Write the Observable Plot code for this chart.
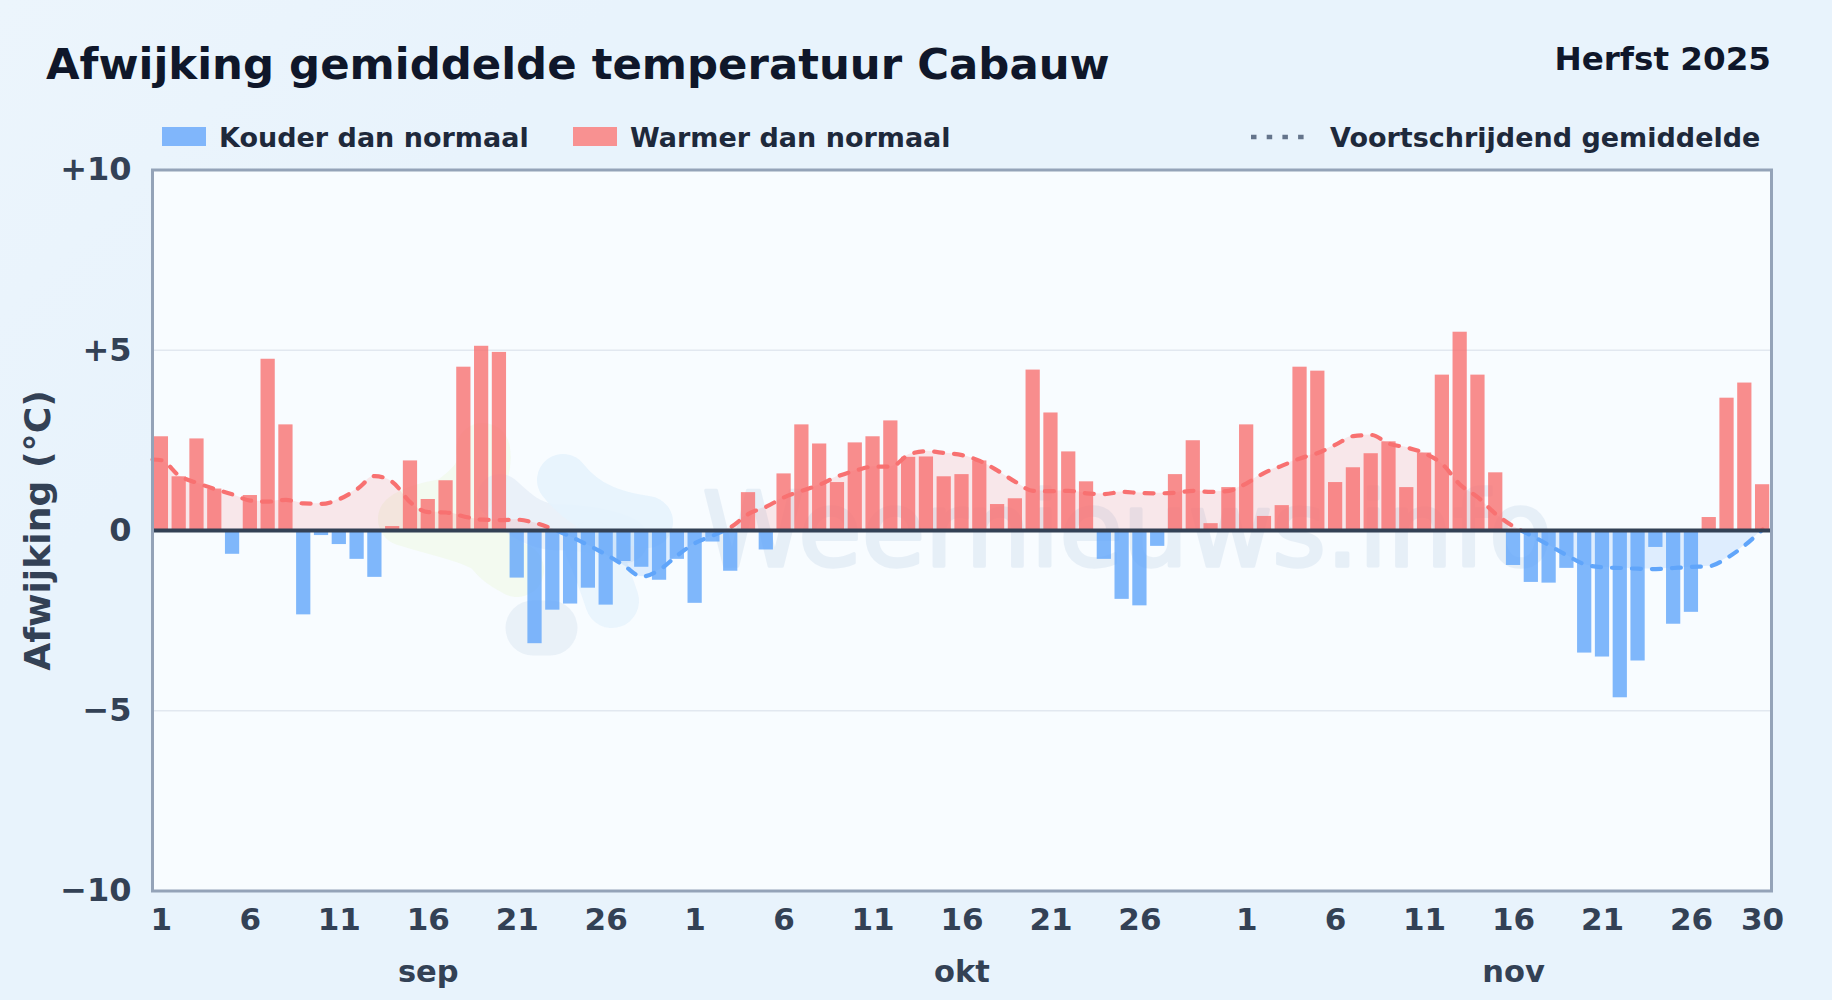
<!DOCTYPE html>
<html lang="nl">
<head>
<meta charset="utf-8">
<title>Afwijking gemiddelde temperatuur Cabauw</title>
<script src="https://cdn.jsdelivr.net/npm/d3@7"></script>
<script src="https://cdn.jsdelivr.net/npm/@observablehq/plot@0.6"></script>
<style>
  html,body{margin:0;padding:0;width:1832px;height:1000px;overflow:hidden;
    background:linear-gradient(135deg,#ecf5fc 0%,#e8f3fc 22%,#e8f3fc 100%);
    font-family:"DejaVu Sans",sans-serif;font-weight:700;}
  #head{position:relative;width:1832px;height:150px;}
  #head div{position:absolute;line-height:1;white-space:nowrap;}
  #title{left:46px;top:43px;font-size:43.4px;color:#0f172a;}
  #season{right:61px;top:43px;font-size:32.6px;color:#0f172a;}
  .leg{top:124px;font-size:27px;color:#1e293b;}
  .sw{top:127px;width:44px;height:19px;}
  #dots{position:absolute;left:1251px;top:134px;}
  #chart svg{display:block;}
</style>
</head>
<body>
<div id="head">
  <div id="title">Afwijking gemiddelde temperatuur Cabauw</div>
  <div id="season">Herfst 2025</div>
  <div class="sw" style="left:162px;background:#80b6fb"></div>
  <div class="leg" style="left:219px">Kouder dan normaal</div>
  <div class="sw" style="left:573px;background:#f89191"></div>
  <div class="leg" style="left:630px">Warmer dan normaal</div>
  <svg id="dots" width="60" height="6"><line x1="0" x2="58" y1="3" y2="3" stroke="#64748b" stroke-width="4.5" stroke-dasharray="5.5 10.2"/></svg>
  <div class="leg" style="left:1330px">Voortschrijdend gemiddelde</div>
</div>
<div id="chart"></div>
<script>
const anomaly = [
  2.60,1.49,2.54,1.15,-0.66,0.97,4.75,2.93,-2.34,-0.14,-0.39,-0.80,-1.30,0.11,1.93,0.86,1.38,4.53,5.11,4.94,
  -1.32,-3.14,-2.21,-2.04,-1.60,-2.07,-0.86,-1.02,-1.38,-0.80,
  -2.02,-0.32,-1.13,1.05,-0.54,1.57,2.93,2.40,1.33,2.43,2.60,3.04,2.03,2.04,1.49,1.55,1.93,0.72,0.88,4.45,
  3.26,2.18,1.35,-0.80,-1.91,-2.09,-0.44,1.55,2.49,0.19,1.19,
  2.93,0.39,0.69,4.53,4.42,1.33,1.74,2.13,2.46,1.19,2.15,4.31,5.50,4.31,1.60,-0.97,-1.44,-1.46,-1.05,
  -3.40,-3.51,-4.64,-3.62,-0.47,-2.60,-2.27,0.36,3.67,4.09,1.27
];
const movingAverage = [
  1.95,1.52,1.32,1.15,1.00,0.83,0.80,0.85,0.75,0.74,0.87,1.15,1.51,1.34,0.78,0.51,0.50,0.39,0.30,0.29,
  0.30,0.21,0.04,-0.17,-0.41,-0.67,-0.97,-1.28,-1.09,-0.69,
  -0.35,-0.14,0.09,0.46,0.66,0.92,1.10,1.27,1.50,1.66,1.77,1.77,2.10,2.20,2.15,2.09,1.93,1.66,1.35,1.10,
  1.09,1.10,1.03,1.01,1.07,1.04,1.03,1.05,1.10,1.07,1.10,
  1.31,1.60,1.80,2.00,2.15,2.38,2.62,2.65,2.41,2.30,2.14,1.84,1.27,0.92,0.46,0.11,-0.14,-0.41,-0.69,
  -0.94,-1.02,-1.04,-1.06,-1.07,-1.04,-1.01,-0.99,-0.76,-0.41,0.03
];
const xTickIndex = [0,5,10,15,20,25,30,35,40,45,50,55,61,66,71,76,81,86,90];
const xTickLabel = ["1","6","11","16","21","26","1","6","11","16","21","26","1","6","11","16","21","26","30"];
const monthIndex = [15,45,76];
const monthLabel = ["sep","okt","nov"];
const yTicks = [10,5,0,-5,-10];
const yTickLabel = ["+10","+5","0","\u22125","\u221210"];
const gridLines = [5,-5];

const bars = anomaly.map((v,i)=>({i,v}));
const avg = movingAverage.map((v,i)=>({i,v}));
avg.unshift({i:-0.5,v:movingAverage[0]+0.02});

const RED="#f87171", BLUE="#60a5fa";
let clipN=0;
const clipTo=(a,b)=>(index,scales,values,dims,context,next)=>{
  const g=next(index,scales,values,dims,context);
  const id="clip"+(++clipN);
  const cp=d3.create("svg:clipPath").attr("id",id);
  cp.append("rect").attr("x",0).attr("width",dims.width)
    .attr("y",Math.min(scales.y(a),scales.y(b))).attr("height",Math.abs(scales.y(a)-scales.y(b)));
  const wrap=d3.create("svg:g").attr("clip-path",`url(#${id})`);
  wrap.node().appendChild(cp.node());
  wrap.node().appendChild(g);
  return wrap.node();
};
const logoMark=()=>{
  const g=d3.create("svg:g").attr("fill","none").attr("stroke-linecap","round").attr("stroke-linejoin","round");
  const paths=[
    ["M483 450 C488 480 465 492 450 505 C430 508 415 512 405 519 C440 530 470 535 490 548 C500 562 510 566 517 570","#eef7e4",54,.55],
    ["M500 497 C515 510 525 522 550 527 C580 527 610 532 625 540","#e4ecf6",46,.7],
    ["M563 480 C585 508 615 518 647 522","#e6f3fd",52,.9],
    ["M612 601 C605 580 600 565 592 548","#e6f3fd",54,.8],
    ["M533 628 L550 628","#e6eef7",55,.85]
  ];
  for(const [d,c,w,o] of paths) g.append("path").attr("d",d).attr("stroke",c).attr("stroke-width",w).attr("opacity",o).attr("transform","translate(0,-150)");
  return g.node();
};

const plot = Plot.plot({
  width:1832, height:850,
  marginLeft:152, marginRight:61, marginTop:19.5, marginBottom:109.5,
  style:{background:"transparent",fontFamily:"'DejaVu Sans',sans-serif",fontWeight:700,overflow:"visible"},
  x:{type:"linear",domain:[-0.5,90.5]},
  y:{domain:[-10,10]},
  marks:[
    Plot.frame({fill:"#f8fcff",stroke:null}),
    logoMark,
    Plot.text(["Weernieuws.info"],{frameAnchor:"left",dx:550,dy:35,text:d=>d,textAnchor:"start",fontSize:103,fontWeight:400,fill:"#2563a8",stroke:"#2563a8",strokeWidth:3.5,opacity:.08,lineAnchor:"bottom"}),
    Plot.ruleY(gridLines,{stroke:"#e2e8f0",strokeWidth:1.7}),
    Plot.areaY(avg,{x:"i",y1:0,y2:"v",curve:"monotone-x",fill:RED,fillOpacity:.15,render:clipTo(10,0)}),
    Plot.areaY(avg,{x:"i",y1:0,y2:"v",curve:"monotone-x",fill:BLUE,fillOpacity:.17,render:clipTo(0,-10)}),
    Plot.rectY(bars,{x1:d=>d.i-0.4,x2:d=>d.i+0.4,y1:0,y2:"v",fill:d=>d.v<0?BLUE:RED,fillOpacity:.8}),
    Plot.line(avg,{x:"i",y:"v",curve:"monotone-x",stroke:RED,strokeWidth:4.2,strokeDasharray:"9 11",strokeLinecap:"round",render:clipTo(10,0)}),
    Plot.line(avg,{x:"i",y:"v",curve:"monotone-x",stroke:BLUE,strokeWidth:4.2,strokeDasharray:"9 11",strokeLinecap:"round",render:clipTo(0,-10)}),
    Plot.ruleY([0],{stroke:"#334155",strokeWidth:3.8}),
    Plot.frame({stroke:"#94a3b8",strokeWidth:3}),
    Plot.axisY({ticks:yTicks,tickFormat:d=>yTickLabel[yTicks.indexOf(d)],tickSize:0,tickPadding:21,fontSize:32,fill:"#334155",label:null}),
    Plot.axisX({ticks:xTickIndex,tickFormat:d=>xTickLabel[xTickIndex.indexOf(d)],tickSize:0,tickPadding:16.5,fontSize:31,fill:"#334155",label:null}),
    Plot.axisX({ticks:monthIndex,tickFormat:d=>monthLabel[monthIndex.indexOf(d)],tickSize:0,tickPadding:69,fontSize:30.5,fill:"#334155",label:null}),
    Plot.text(["Afwijking (\u00b0C)"],{frameAnchor:"left",dx:-114,rotate:-90,text:d=>d,fontSize:36.2,fill:"#334155",textAnchor:"middle"})
  ]
});
document.getElementById("chart").appendChild(plot);
</script>
</body>
</html>
